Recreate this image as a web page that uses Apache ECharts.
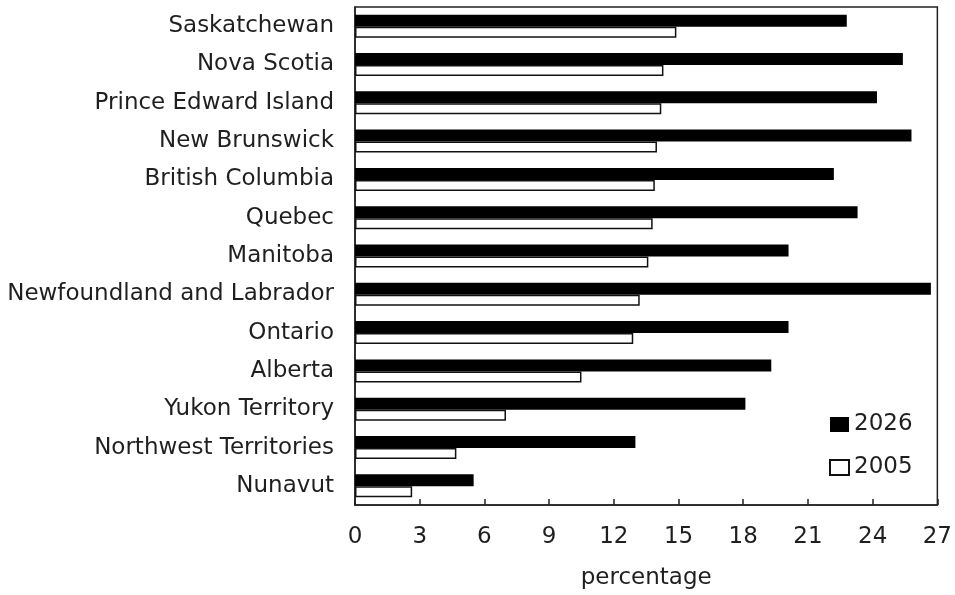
<!DOCTYPE html>
<html>
<head>
<meta charset="utf-8">
<script src="https://cdn.jsdelivr.net/npm/echarts@6/dist/echarts.min.js"></script>
<style>
html,body{margin:0;padding:0;background:#fff;}
#chart{width:955px;height:595px;}
</style>
</head>
<body>
<div id="chart"></div>
<script>
const categories = ["Saskatchewan","Nova Scotia","Prince Edward Island","New Brunswick","British Columbia","Quebec","Manitoba","Newfoundland and Labrador","Ontario","Alberta","Yukon Territory","Northwest Territories","Nunavut"];
const values2026 = [22.8, 25.4, 24.2, 25.8, 22.2, 23.3, 20.1, 26.7, 20.1, 19.3, 18.1, 13.0, 5.5];
const values2005 = [14.9, 14.3, 14.2, 14.0, 13.9, 13.8, 13.6, 13.2, 12.9, 10.5, 7.0, 4.7, 2.65];
const xTicks = [0, 3, 6, 9, 12, 15, 18, 21, 24, 27];

const FONT = "DejaVu Sans";
const TXT = "#1f1f1f";
const chart = echarts.init(document.getElementById('chart'), null, {renderer: 'canvas'});
chart.setOption({
  animation: false,
  backgroundColor: '#fff',
  textStyle: {fontFamily: FONT},
  grid: {left: 355, right: 17, top: 7, bottom: 88, show: true, borderColor: '#222', borderWidth: 1.5, containLabel: false},
  legend: {
    orient: 'vertical', left: 829, top: 413, padding: 0, itemWidth: 19, itemHeight: 15, itemGap: 20,
    icon: 'rect',
    textStyle: {fontFamily: FONT, fontSize: 23, color: TXT},
    data: ['2026', '2005']
  },
  xAxis: {
    type: 'value', min: xTicks[0], max: xTicks[xTicks.length - 1], interval: xTicks[1] - xTicks[0],
    name: 'percentage', nameLocation: 'middle', nameGap: 62,
    nameTextStyle: {fontFamily: FONT, fontSize: 23, color: TXT},
    axisLine: {show: true, lineStyle: {color: '#222', width: 1.5}},
    axisTick: {show: true, inside: true, length: 6, lineStyle: {color: '#222', width: 1.5}},
    axisLabel: {fontFamily: FONT, fontSize: 23, color: TXT, margin: 21},
    splitLine: {show: false}
  },
  yAxis: {
    type: 'category', data: categories, inverse: true,
    axisLine: {show: true, lineStyle: {color: '#222', width: 1.5}},
    axisTick: {show: false},
    axisLabel: {fontFamily: FONT, fontSize: 23, color: TXT, margin: 21}
  },
  series: [
    {name: '2026', type: 'bar', data: values2026, barWidth: 12, barGap: '0%',
     itemStyle: {color: '#000', borderColor: '#000', borderWidth: 0}},
    {name: '2005', type: 'bar', data: values2005, barWidth: 11, barGap: '0%',
     itemStyle: {color: '#fff', borderColor: '#111', borderWidth: 1.5}}
  ]
});
</script>
</body>
</html>
